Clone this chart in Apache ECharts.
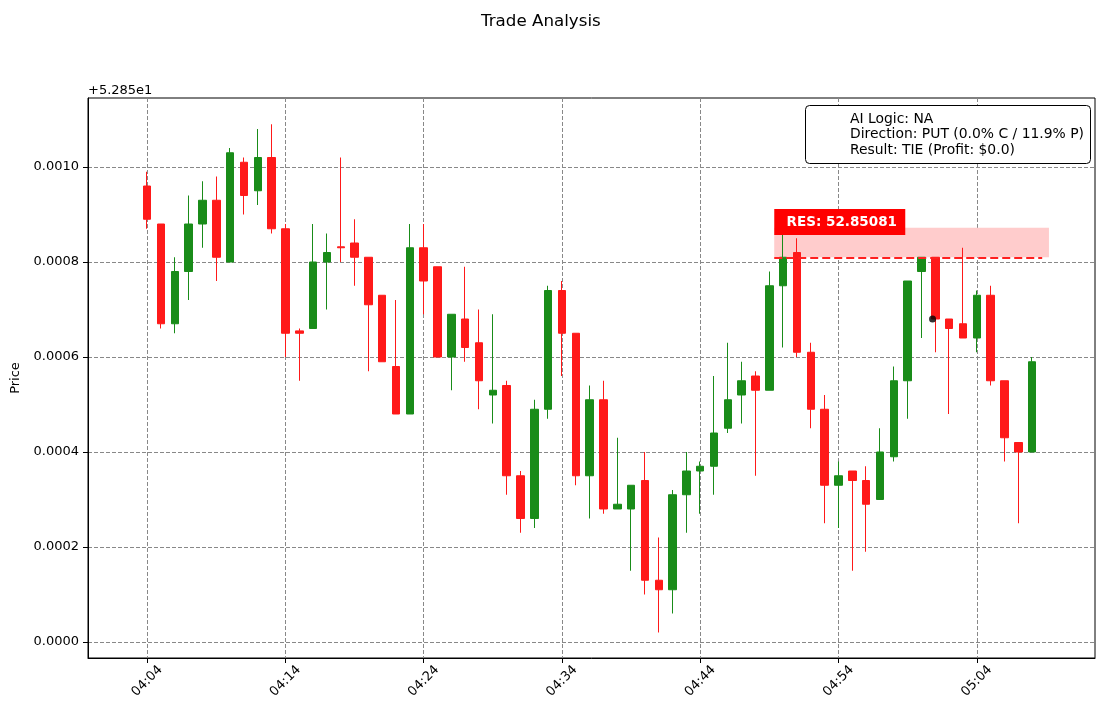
<!DOCTYPE html>
<html>
<head>
	<meta charset="utf-8"/>
	<title>Trade Analysis</title>
	<script src="https://cdn.jsdelivr.net/npm/echarts@6.0.0/dist/echarts.min.js"></script>
	<style>
		html, body { margin: 0; padding: 0; background: #fff; }
		#chart { width: 1105px; height: 716px; }
	</style>
</head>
<body>
<div id="chart"></div>
<script>
    // prices are stored as offsets from BASE, in units of 1e-5
    var BASE = 52.85;
    var UNIT = 1e-5;
    var START_MIN = 4 * 60 + 4; // first candle 04:04

    var opens  = [96, 88, 67, 78, 88, 93, 80, 101, 95, 102,
                  87, 65.5, 66, 80, 83.2, 84, 81, 73, 58, 48,
                  83, 79, 60, 68, 63, 52, 54, 35, 26, 49,
                  74, 65, 35, 51, 28, 28, 34, 13, 11, 31,
                  36, 37, 45, 52, 56, 53, 75, 82, 61, 49,
                  33, 36, 34, 30, 39, 55, 78, 81, 68, 67,
                  64, 73, 55, 42, 40];
    var closes = [89, 67, 78, 88, 93, 81, 103, 94, 102, 87,
                  65, 65, 80, 82, 83, 81, 71, 59, 48, 83,
                  76, 60, 69, 62, 55, 53, 35, 26, 49, 74,
                  65, 35, 51, 28, 29, 33, 13, 11, 31, 36,
                  37, 44, 51, 55, 53, 75, 81, 61, 49, 33,
                  35, 34, 29, 40, 55, 76, 81, 68, 66, 64,
                  73, 55, 43, 40, 59];
    var highs  = [99, 88, 81, 94, 97, 98, 104, 102, 108, 109,
                  88, 66, 88, 86, 102, 89, 81, 73, 72, 88,
                  88, 79, 69, 79, 70, 69, 55, 36, 51, 75,
                  76, 65, 54, 55, 43, 33, 40, 22, 32, 40,
                  38, 56, 63, 59, 57, 78, 86, 85, 63, 52,
                  38, 36, 37, 45, 58, 76, 81, 81, 68, 83,
                  74, 75, 55, 42, 60];
    var lows   = [87, 66, 65, 72, 83, 76, 80, 90, 92, 86,
                  60, 55, 66, 70, 80, 75, 57, 59, 48, 48,
                  69, 60, 53, 59, 49, 46, 31, 23, 24, 47,
                  56, 33, 26, 27, 28, 15, 10, 2, 6, 23,
                  27, 31, 44, 46, 35, 53, 62, 60, 45, 25,
                  24, 15, 19, 30, 38, 47, 64, 61, 48, 64,
                  61, 54, 38, 25, 40];

    // resistance level and its zone
    var resLevel = 81;
    var resZoneTop = 87.2;
    var resStartX = 45.35;
    var resLineEndX = 64.73;
    var resZoneEndX = 65.22;

    // exit marker
    var exitPoint = [[56.8, 68]];

    var infoLines = [
        'AI Logic: NA',
        'Direction: PUT (0.0% C / 11.9% P)',
        'Result: TIE (Profit: $0.0)'
    ];

    var candleData = [];
    for (var i = 0; i < opens.length; i++) {
        candleData.push([i, opens[i], closes[i], lows[i], highs[i]]);
    }

    function timeLabel(v) {
        var m = Math.round(START_MIN + v);
        var hh = Math.floor(m / 60), mm = m % 60;
        return (hh < 10 ? '0' : '') + hh + ':' + (mm < 10 ? '0' : '') + mm;
    }

    var FONT = 'DejaVu Sans';
    var UP = '#198c19', DOWN = '#ff1919';

    var chart = echarts.init(document.getElementById('chart'), null, { renderer: 'canvas' });
    var option = {
        animation: false,
        backgroundColor: '#fff',
        textStyle: { fontFamily: FONT },
        title: {
            text: 'Trade Analysis',
            left: 476, top: 8,
            textStyle: { fontFamily: FONT, fontSize: 16.7, fontWeight: 'normal', color: '#000' }
        },
        grid: {
            left: 88, top: 98, right: 10, bottom: 58,
            show: true, borderColor: '#000', borderWidth: 1, backgroundColor: 'transparent'
        },
        xAxis: {
            type: 'value',
            min: -4.28, max: 68.55,
            minInterval: 10, maxInterval: 10,
            axisLine: { show: true, onZero: false, lineStyle: { color: '#000', width: 1 } },
            axisTick: { show: true, inside: false, length: 5, lineStyle: { color: '#000' } },
            axisLabel: {
                showMinLabel: false, showMaxLabel: false,
                rotate: 45, margin: 23, align: 'center', verticalAlign: 'middle',
                color: '#000', fontFamily: FONT, fontSize: 13,
                formatter: timeLabel
            },
            splitLine: { show: true, showMinLine: false, showMaxLine: false, lineStyle: { color: '#888', type: [4, 2], width: 1 } }
        },
        yAxis: {
            type: 'value',
            min: -3.37, max: 114.53,
            minInterval: 20, maxInterval: 20,
            name: 'Price', nameLocation: 'middle', nameGap: 63, nameRotate: 90,
            nameTextStyle: { color: '#000', fontFamily: FONT, fontSize: 13 },
            axisLine: { show: true, onZero: false, lineStyle: { color: '#000', width: 1 } },
            axisTick: { show: true, inside: false, length: 5, lineStyle: { color: '#000' } },
            axisLabel: {
                showMinLabel: false, showMaxLabel: false,
                margin: 9, color: '#000', fontFamily: FONT, fontSize: 13,
                formatter: function (v) { return (v * UNIT).toFixed(4); }
            },
            splitLine: { show: true, showMinLine: false, showMaxLine: false, lineStyle: { color: '#888', type: [4, 2], width: 1 } }
        },
        series: [
            {
                name: 'Price',
                type: 'candlestick',
                data: candleData,
                encode: { x: 0, y: [1, 2, 3, 4] },
                barWidth: 8,
                itemStyle: {
                    color: UP, color0: DOWN,
                    borderColor: UP, borderColor0: DOWN,
                    borderWidth: 1
                },
                markArea: {
                    silent: true,
                    itemStyle: { color: '#ffcccc' },
                    data: [[{ coord: [resStartX, resLevel] }, { coord: [resZoneEndX, resZoneTop] }]]
                },
                markLine: {
                    silent: true,
                    symbol: 'none',
                    label: { show: false },
                    lineStyle: { color: '#ff2020', type: [8, 4], width: 2 },
                    data: [[{ coord: [resStartX, resLevel] }, { coord: [resLineEndX, resLevel] }]]
                },
                markPoint: {
                    silent: true,
                    symbol: 'rect',
                    symbolSize: [131, 26],
                    itemStyle: { color: '#ff0000' },
                    label: {
                        show: true, color: '#fff', fontFamily: FONT, fontSize: 13.5, fontWeight: 'bold',
                        offset: [2, 0],
                        formatter: 'RES: ' + (BASE + resLevel * UNIT).toFixed(5)
                    },
                    data: [{ coord: [50.09, 88.4] }]
                }
            },
            {
                name: 'Exit',
                type: 'scatter',
                data: exitPoint,
                symbol: 'circle',
                symbolSize: 7,
                itemStyle: { color: '#000' },
                z: 5
            }
        ],
        graphic: [
            {
                type: 'text', left: 88, top: 84,
                style: { text: '+5.285e1', font: '13px "DejaVu Sans"', fill: '#000' }
            },
            {
                type: 'rect', left: 805, top: 105,
                shape: { width: 285, height: 58, r: 4 },
                style: { fill: '#fff', stroke: '#000', lineWidth: 1 },
                z: 10
            },
            {
                type: 'text', left: 850, top: 111.5, z: 11,
                style: {
                    text: infoLines.join('\n'),
                    font: '13.9px "DejaVu Sans"', lineHeight: 15.5, fill: '#000'
                }
            }
        ]
    };
    chart.setOption(option);
</script>
</body>
</html>
